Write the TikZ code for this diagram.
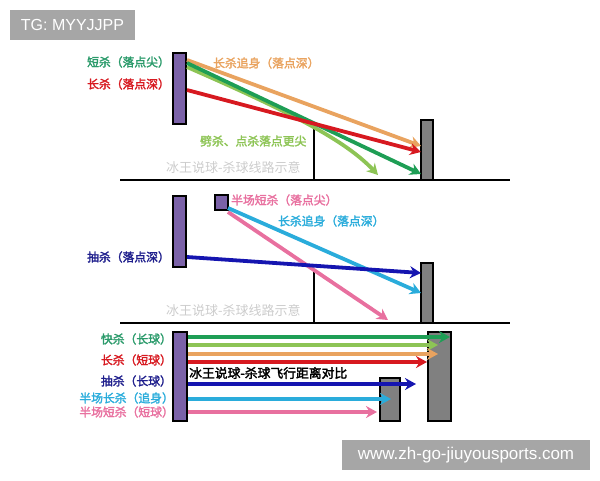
\documentclass[tikz,border=0pt]{standalone}
\usepackage{fontspec}
\setmainfont{Liberation Sans}
\newfontfamily\cjk{Noto Sans CJK SC}[FakeBold=2.2]
\newfontfamily\cjkthin{Noto Sans CJK SC}
\usetikzlibrary{arrows.meta}

\definecolor{racketpurple}{HTML}{7B62A8}
\definecolor{wallgray}{HTML}{808080}
\definecolor{shotgreen}{HTML}{1E9E55}
\definecolor{shotlime}{HTML}{8DC455}
\definecolor{shotorange}{HTML}{E9A35F}
\definecolor{shotred}{HTML}{D71920}
\definecolor{shotblue}{HTML}{1515B0}
\definecolor{labelnavy}{HTML}{1E1E8C}
\definecolor{shotcyan}{HTML}{2AACDB}
\definecolor{shotpink}{HTML}{E8709F}
\definecolor{labelgreen}{HTML}{2A9A6A}
\definecolor{tagbg}{HTML}{A6A6A6}

\tikzset{
    racket/.style={draw=black,fill=racketpurple,line width=1.3pt},
    wall/.style={draw=black,fill=wallgray,line width=1.3pt},
    shot/.style={->,line width=3.8pt},
    ground/.style={line width=2.8pt,black},
    lbl/.style={font=\cjk\fontsize{11.8}{13}\selectfont,inner sep=0pt},
    wmark/.style={font=\cjkthin\fontsize{13}{15}\selectfont,text=gray!40,inner sep=0pt},
    tag/.style={fill=tagbg,text=white,inner sep=0pt}
}

\begin{document}
\begin{tikzpicture}[x=1pt,y=-1pt,>={Stealth[length=11pt,width=12pt]}]
    \useasboundingbox (0,0) rectangle (600,480);
    
    % tags
    \node[tag,minimum width=125pt,minimum height=30pt,font=\fontsize{16}{18}\selectfont] (tg) at (72.5,25) {TG: MYYJJPP};
    \node[tag,minimum width=248pt,minimum height=30pt,font=\fontsize{17}{19}\selectfont] (url) at (466,455) {www.zh-go-jiuyousports.com};
    
    % panel 1
    \draw[ground] (120,180) -- (510,180);
    \draw[ground] (314,128) -- (314,180);
    \draw[racket] (173,53) rectangle (186,124);
    \draw[wall] (421,120) rectangle (433,180);
    \node[wmark,anchor=west] (wm1) at (166,168) {冰王说球-杀球线路示意};
    
    \coordinate (orA) at (187,60);
    \coordinate (orB) at (421,146);
    \coordinate (reA) at (187,90);
    \coordinate (reB) at (421,152);
    \coordinate (grA) at (187,63);
    \coordinate (grB) at (421,174);
    \coordinate (liA) at (187,67);
    \coordinate (liB) at (378,175);
    
    \draw[shot,shotorange] (orA) -- (orB);
    \draw[shot,shotlime] (liA) .. controls (290,112) and (345,140) .. (liB);
    \draw[shot,shotgreen] (grA) -- (grB);
    \draw[shot,shotred] (reA) -- (reB);
    
    \node[lbl,anchor=east,text=labelgreen] (l11) at (170,62) {短杀（落点尖）};
    \node[lbl,anchor=east,text=shotred] (l12) at (170,84) {长杀（落点深）};
    \node[lbl,anchor=west,text=shotorange] (l13) at (213,63) {长杀追身（落点深）};
    \node[lbl,anchor=west,text=shotlime] (l14) at (200,141) {劈杀、点杀落点更尖};
    
    % panel 2
    \draw[ground] (120,323) -- (510,323);
    \draw[ground] (314,272) -- (314,323);
    \draw[racket] (173,196) rectangle (186,267);
    \draw[racket] (215,195) rectangle (228,210);
    \draw[wall] (421,263) rectangle (433,323);
    \node[wmark,anchor=west] (wm2) at (166,311) {冰王说球-杀球线路示意};
    
    \coordinate (blA) at (187,257);
    \coordinate (blB) at (421,273);
    \coordinate (cyA) at (228,208);
    \coordinate (cyB) at (421,293);
    \coordinate (piA) at (228,212);
    \coordinate (piB) at (388,320);
    
    \draw[shot,shotpink] (piA) -- (piB);
    \draw[shot,shotcyan] (cyA) -- (cyB);
    \draw[shot,shotblue] (blA) -- (blB);
    
    \node[lbl,anchor=west,text=shotpink] (l21) at (231,200) {半场短杀（落点尖）};
    \node[lbl,anchor=west,text=shotcyan] (l22) at (278,221) {长杀追身（落点深）};
    \node[lbl,anchor=east,text=labelnavy] (l23) at (170,257) {抽杀（落点深）};
    
    % panel 3
    \draw[racket] (173,332) rectangle (187,421);
    \draw[wall] (428,332) rectangle (451,421);
    \draw[wall] (380,378) rectangle (400,421);
    \node[anchor=west,inner sep=0pt,font=\cjk\fontsize{12.8}{14}\selectfont] (ttl) at (189,373) {冰王说球-杀球飞行距离对比};
    
    \foreach \yy/\xx/\cc in {337/450/shotgreen,345/438/shotlime,354/438/shotorange,362/427/shotred,384/416/shotblue,399/391/shotcyan,412/377/shotpink}
        \draw[shot,\cc] (188,\yy) -- (\xx,\yy);
    
    \node[lbl,anchor=east,text=labelgreen] (l31) at (172,339) {快杀（长球）};
    \node[lbl,anchor=east,text=shotred] (l32) at (172,360) {长杀（短球）};
    \node[lbl,anchor=east,text=labelnavy] (l33) at (172,381) {抽杀（长球）};
    \node[lbl,anchor=east,text=shotcyan] (l34) at (174,398) {半场长杀（追身）};
    \node[lbl,anchor=east,text=shotpink] (l35) at (174,412) {半场短杀（短球）};
\end{tikzpicture}
\end{document}
